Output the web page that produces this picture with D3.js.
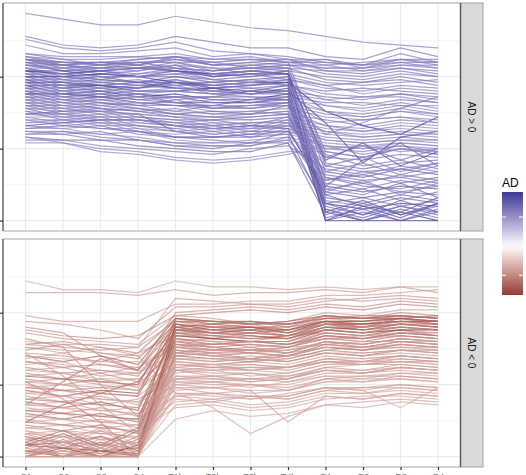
<!DOCTYPE html>
<html><head><meta charset="utf-8">
<script src="https://cdn.jsdelivr.net/npm/d3@7"></script>
<style>html,body{margin:0;padding:0;background:#fff;overflow:hidden}svg{display:block;font-family:"Liberation Sans",Arial,sans-serif}</style>
</head><body><svg id="c" width="526" height="475"></svg>
<script>
const categories=["C1","C2","C3","C4","T1h","T2h","T3h","T4h","R1","R2","R3","R4"];
const facetLabels=["AD > 0","AD < 0"];
const yTicks=[0,25,50];
const yMinor=[12.5,37.5,62.5];
const adBreaks=[-0.5,0,0.5];
const upRows=[
[72,70,68,68,71,69,67,66,64,62,61,60],
[64,61,60,61,64,62,60,60,57,56,60,57],
[63,60,59,60,62,59,58,57,55,54,58,55],
[61,58,58,59,60,57,58,56,56,53,56,54],
[58,56,54,56,57,56,57,55,55,54,56,55],
[57,55,55,54,56,54,55,56,52,51,53,52],
[57,54,53,55,55,55,53,54,53,53,55,53],
[56,55,54,53,55,52,53,54,51,50,52,50],
[56,53,54,55,53,52,54,53,24,22,25,23],
[55,54,52,53,54,53,51,52,50,49,51,50],
[55,52,53,54,52,51,52,51,20,18,20,21],
[54,53,51,52,54,50,52,53,49,48,50,48],
[54,52,52,50,51,51,50,52,17,15,18,16],
[53,51,52,51,53,50,51,49,47,48,49,47],
[53,50,51,50,50,49,50,51,14,16,13,15],
[52,51,49,51,52,49,48,49,46,45,47,46],
[52,49,50,48,50,48,49,50,12,10,12,11],
[51,50,48,49,47,48,49,47,45,46,45,44],
[51,48,49,48,49,46,47,48,10,8,10,9],
[50,49,47,46,49,47,46,47,44,43,44,43],
[50,47,48,47,46,46,47,48,8,6,9,7],
[49,48,46,47,48,45,46,45,43,42,44,42],
[49,46,47,45,45,46,44,46,6,4,6,5],
[48,47,45,46,47,44,45,44,42,40,42,41],
[48,45,46,44,43,43,45,45,5,2,5,3],
[47,46,44,45,45,44,43,43,41,41,40,40],
[47,44,45,43,44,42,42,44,3,0,3,0],
[46,45,43,44,42,43,43,42,40,38,40,38],
[46,43,44,42,43,41,41,43,0,3,0,3],
[45,44,42,43,41,42,41,41,38,37,39,37],
[45,42,43,41,40,40,42,42,0,0,0,0],
[44,43,41,40,42,39,40,40,37,36,38,36],
[44,41,42,40,38,40,39,41,4,0,4,1],
[43,42,40,41,40,38,38,39,36,35,36,35],
[43,40,41,39,37,38,37,40,1,4,0,4],
[42,41,39,38,39,37,38,37,35,33,35,34],
[42,39,40,38,36,36,37,38,7,5,8,6],
[41,40,38,39,37,36,35,36,33,32,34,33],
[41,38,39,36,35,35,36,37,9,11,7,10],
[40,39,37,37,36,34,34,35,32,31,33,32],
[40,37,38,35,34,35,33,36,13,11,14,12],
[39,38,36,36,35,33,34,34,31,30,31,30],
[39,36,37,34,33,34,32,35,16,14,15,17],
[38,37,35,35,34,32,33,33,30,29,30,29],
[38,35,36,33,32,33,31,34,19,17,18,20],
[37,36,34,34,33,31,32,32,29,28,29,28],
[36,34,35,32,31,32,30,33,22,21,23,22],
[35,35,33,33,32,30,31,31,28,27,28,27],
[35,33,34,31,30,31,29,32,25,24,26,24],
[34,34,32,32,29,29,30,30,27,26,27,26],
[33,32,33,30,29,28,27,31,15,13,16,14],
[32,32,30,31,28,27,28,29,26,25,26,25],
[31,30,31,28,27,26,26,29,11,13,10,12],
[30,30,28,28,26,25,27,27,6,8,5,7],
[29,28,28,26,25,24,24,27,2,6,2,5],
[28,28,26,25,24,23,25,26,18,16,19,17],
[27,27,24,23,21,20,21,23,26,25,27,26],
[29,27,25,24,22,21,22,24,24,22,25,23],
[56,55,55,56,57,55,56,55,56,54,55,55],
[55,54,55,55,56,54,55,54,54,55,56,56],
[52,51,52,53,52,51,52,51,21,27,19,24],
[50,50,51,50,48,47,48,48,38,33,30,36],
[47,47,47,48,46,45,44,45,34,20,29,31],
[44,44,43,44,41,39,40,41,30,34,39,43],
[37,38,38,37,31,29,30,31,12,21,27,19],
[33,34,35,35,33,32,33,32,9,5,3,8],
[57,56,56,57,56,55,56,56,54,52,54,53],
[56,54,55,54,57,54,54,55,22,26,21,25],
[55,55,54,55,55,53,53,53,52,52,53,51],
[54,54,53,53,53,52,53,52,19,22,17,20],
[53,53,53,52,54,51,52,51,48,47,48,49],
[52,52,50,50,52,50,51,51,3,7,2,6],
[51,51,50,50,51,49,48,50,47,44,46,45],
[50,50,49,48,48,48,47,49,11,9,13,8],
[49,49,48,47,47,47,48,47,42,43,43,41],
[48,48,47,46,48,46,45,47,0,5,1,6],
[47,47,46,45,46,45,44,45,40,39,41,39],
[46,46,45,44,45,44,44,44,15,12,11,14],
[45,45,44,43,43,43,42,43,38,36,38,37],
[44,44,43,42,41,41,41,42,6,2,7,3],
[43,43,42,41,41,40,40,41,34,35,36,34],
[42,42,41,40,40,39,39,40,23,19,21,18],
[41,41,40,39,38,37,37,38,33,31,32,31],
[40,40,39,38,37,36,36,37,10,14,9,13],
[39,39,38,37,36,35,35,36,31,29,30,30],
[37,37,36,36,34,33,34,34,17,20,16,19],
[36,36,35,35,33,32,32,33,28,27,28,28],
[34,35,34,33,31,30,31,31,26,23,25,24],
[32,33,32,31,29,29,29,30,4,1,5,2],
[31,31,30,29,27,27,27,28,25,26,24,25],
[30,31,29,28,26,26,26,28,14,17,15,13],
[58,57,57,57,58,56,56,55,53,53,54,54]
];
const upAD=[0.55,0.6,0.58,0.56,0.6,0.62,0.55,0.6,0.7,0.58,
0.65,0.62,0.72,0.6,0.66,0.57,0.74,0.6,0.68,0.58,
0.7,0.62,0.9,0.6,0.72,0.58,0.93,0.6,0.75,0.58,
0.8,0.57,0.7,0.6,0.68,0.58,0.66,0.55,0.64,0.56,
0.62,0.55,0.6,0.57,0.62,0.55,0.6,0.54,0.58,0.52,
0.62,0.5,0.6,0.64,0.66,0.56,0.5,0.52,0.6,0.58,
0.85,0.88,0.82,0.6,0.7,0.75,
0.55,0.65,0.58,0.62,0.56,0.8,0.55,0.66,0.57,0.78,
0.55,0.6,0.56,0.72,0.55,0.6,0.54,0.62,0.52,0.58,
0.52,0.55,0.7,0.52,0.58,0.56];
const downRows=[
[61,58,58,57,61,59,59,58,59,58,59,59],
[57,57,57,56,58,56,57,57,58,57,59,57],
[49,47,47,47,53,53,54,54,56,56,57,58],
[47,46,44,41,52,52,53,52,54,55,56,55],
[45,43,35,30,50,51,52,51,53,52,54,53],
[43,41,40,39,49,48,46,47,50,49,51,51],
[39,40,38,36,48,46,47,45,49,48,50,49],
[39,38,37,38,47,45,46,44,48,47,49,48],
[38,36,38,35,44,45,44,46,47,46,47,47],
[37,39,36,34,46,44,45,43,46,46,48,46],
[36,35,33,36,42,41,43,42,44,45,46,45],
[35,33,35,32,48,47,46,47,49,48,48,49],
[34,36,32,31,40,41,40,42,43,42,44,43],
[33,31,32,30,45,44,43,44,46,45,46,46],
[32,33,29,31,38,39,40,39,41,42,42,41],
[31,29,30,28,43,41,42,41,44,43,45,44],
[30,31,28,29,36,37,36,38,39,38,40,40],
[29,27,29,26,41,40,38,39,42,41,43,42],
[28,29,26,27,35,34,35,34,37,38,38,37],
[27,25,27,24,39,37,38,36,40,39,41,40],
[26,27,25,23,33,32,33,35,36,35,37,36],
[25,23,24,25,37,35,36,35,38,37,39,38],
[24,25,22,21,31,32,30,31,34,33,35,34],
[23,21,23,22,46,44,45,43,47,46,47,47],
[22,23,20,19,29,30,28,29,32,33,33,32],
[21,19,21,18,34,33,34,33,36,35,36,35],
[20,21,18,20,27,26,27,28,30,29,31,30],
[19,17,19,16,43,42,41,42,45,44,45,44],
[18,19,16,17,25,26,24,26,28,27,29,29],
[17,15,17,14,32,31,31,30,33,33,34,33],
[16,17,14,15,23,24,22,23,26,27,27,26],
[15,13,15,12,41,39,40,39,43,42,44,42],
[14,15,12,13,21,22,20,22,24,23,25,24],
[13,11,13,10,30,29,29,28,31,30,32,31],
[12,13,10,11,19,20,18,19,22,22,23,22],
[11,9,11,8,39,38,37,38,41,40,42,41],
[10,11,8,9,17,18,16,17,20,21,21,20],
[9,7,9,6,28,27,27,26,29,29,30,29],
[8,9,6,7,22,17,8,14,18,19,20,19],
[7,5,7,4,36,35,34,35,38,37,38,38],
[6,7,4,5,24,22,23,12,21,20,22,21],
[5,3,5,2,26,25,25,24,27,28,28,27],
[4,5,2,3,44,43,42,41,45,44,46,45],
[3,1,3,0,22,21,20,21,24,23,17,24],
[2,3,0,1,33,32,33,32,35,34,35,34],
[0,5,0,5,20,19,21,20,23,24,24,23],
[5,0,5,0,37,36,36,35,39,38,40,39],
[0,0,0,0,13,16,14,15,18,17,19,18],
[3,0,4,0,30,28,29,27,31,32,32,31],
[0,3,0,4,42,41,40,40,44,43,44,44],
[6,2,6,1,18,19,17,18,21,20,22,21],
[1,6,1,6,35,34,33,34,37,36,37,37],
[8,4,9,3,27,28,26,27,30,29,31,30],
[4,8,3,9,40,38,39,38,42,41,43,42],
[0,0,0,0,25,24,25,23,27,26,28,27],
[2,0,2,0,45,43,44,42,46,46,47,46],
[0,2,0,2,31,30,31,31,33,32,34,33],
[41,38,25,14,38,37,37,36,40,39,41,40],
[36,28,18,8,30,31,30,31,33,32,33,33],
[18,26,34,30,47,46,47,46,48,49,49,48],
[26,20,12,0,35,36,34,36,38,37,39,38],
[12,18,22,26,44,43,44,44,47,45,48,47],
[40,39,39,38,55,54,53,53,55,54,55,54],
[44,42,41,42,49,50,51,50,52,51,53,52],
[38,37,36,35,22,22,21,21,24,24,25,24],
[35,34,33,33,30,30,30,29,32,32,33,32],
[33,32,30,29,41,40,40,40,43,42,43,43],
[30,29,27,27,26,26,25,25,28,28,29,28],
[28,27,26,25,47,47,46,46,48,48,49,48],
[26,25,24,23,36,35,36,35,38,38,39,38],
[24,23,22,21,44,44,44,43,46,45,47,46],
[22,21,20,19,24,24,23,23,26,26,27,26],
[20,19,18,17,43,43,43,42,45,45,46,45],
[18,17,16,15,28,28,27,27,30,30,31,30],
[16,15,14,13,45,46,45,45,47,47,48,47],
[14,13,12,11,34,34,34,33,36,36,37,36],
[12,11,10,9,42,42,41,41,44,43,45,44],
[10,9,8,7,38,37,37,37,40,39,41,40],
[8,7,6,5,32,32,32,31,34,34,35,34],
[6,5,4,3,39,39,39,38,41,41,42,41],
[4,3,2,1,46,45,45,44,47,47,48,47],
[2,1,0,0,40,39,40,39,42,41,43,42],
[0,4,0,3,34,33,34,33,36,35,37,36],
[4,0,3,0,27,27,26,27,30,29,31,30],
[7,3,7,2,44,42,43,42,46,44,46,45],
[3,7,2,7,38,36,37,36,40,38,40,39],
[0,0,0,0,32,31,32,31,34,33,35,34],
[9,5,10,4,21,20,21,20,23,22,24,23],
[5,9,4,10,48,47,47,46,49,48,49,48],
[1,2,1,1,36,38,36,37,39,40,40,39]
];
const downAD=[-0.35,-0.4,-0.38,-0.42,-0.45,-0.4,-0.5,-0.45,-0.4,-0.48,
-0.42,-0.65,-0.4,-0.55,-0.38,-0.5,-0.4,-0.45,-0.38,-0.48,
-0.4,-0.45,-0.38,-0.7,-0.36,-0.42,-0.38,-0.66,-0.36,-0.42,
-0.35,-0.6,-0.35,-0.4,-0.34,-0.58,-0.34,-0.4,-0.36,-0.5,
-0.38,-0.4,-0.75,-0.36,-0.42,-0.36,-0.55,-0.34,-0.4,-0.84,
-0.36,-0.5,-0.4,-0.62,-0.4,-0.72,-0.42,-0.48,-0.42,-0.55,
-0.5,-0.62,-0.4,-0.5,
-0.4,-0.38,-0.45,-0.36,-0.6,-0.4,-0.55,-0.36,-0.5,-0.38,
-0.62,-0.4,-0.5,-0.42,-0.38,-0.45,-0.7,-0.5,-0.42,-0.38,
-0.55,-0.45,-0.4,-0.36,-0.6,-0.45];

const svg=d3.select("#c");
const panelL=3, panelR=460.5, stripR=483;
const panels=[
  {top:3,bottom:231,rows:upRows,ad:upAD,label:facetLabels[0]},
  {top:239,bottom:467,rows:downRows,ad:downAD,label:facetLabels[1]}
];
const x=d3.scalePoint().domain(categories).range([panelL,panelR]).padding(0.6);
const allV=upRows.flat().concat(downRows.flat());
const [vmin,vmax]=d3.extent(allV);
const pad=(vmax-vmin)*0.05;
const allAD=upAD.concat(downAD);
const adExt=d3.extent(allAD);
const adM=Math.max(Math.abs(adExt[0]),Math.abs(adExt[1]));
const hi=d3.interpolateLab("#ffffff","#3A3A98"), lo=d3.interpolateLab("#ffffff","#832424");
const col=v=>v>=0?hi(v/adM):lo(-v/adM);

panels.forEach((p,pi)=>{
  const y=d3.scaleLinear().domain([vmin-pad,vmax+pad]).range([p.bottom,p.top]);
  const g=svg.append("g");
  g.append("rect").attr("x",panelL).attr("y",p.top).attr("width",panelR-panelL).attr("height",p.bottom-p.top).attr("fill","#fff");
  g.append("g").selectAll("line").data(yMinor).join("line")
    .attr("x1",panelL).attr("x2",panelR).attr("y1",d=>y(d)).attr("y2",d=>y(d))
    .attr("stroke","#f3f3f3").attr("stroke-width",0.8);
  g.append("g").selectAll("line").data(yTicks).join("line")
    .attr("x1",panelL).attr("x2",panelR).attr("y1",d=>y(d)).attr("y2",d=>y(d))
    .attr("stroke","#ebebeb").attr("stroke-width",1.1);
  g.append("g").selectAll("line").data(categories).join("line")
    .attr("x1",d=>x(d)).attr("x2",d=>x(d)).attr("y1",p.top).attr("y2",p.bottom)
    .attr("stroke","#ebebeb").attr("stroke-width",1.1);
  const line=d3.line().x((d,i)=>x(categories[i])).y(d=>y(d));
  g.append("g").selectAll("path").data(p.rows).join("path")
    .attr("d",line).attr("fill","none")
    .attr("stroke",(d,i)=>col(p.ad[i])).attr("stroke-width",1.2).attr("stroke-opacity",0.72);
  [[panelL,p.top,panelR,p.top],[panelL,p.bottom,panelR,p.bottom]].forEach(s=>
    g.append("line").attr("x1",s[0]).attr("y1",s[1]).attr("x2",s[2]).attr("y2",s[3]).attr("stroke","#c4c4c4").attr("stroke-width",1.6));
  g.append("rect").attr("x",panelR).attr("y",p.top).attr("width",stripR-panelR).attr("height",p.bottom-p.top)
    .attr("fill","#d9d9d9").attr("stroke","#b0b0b0").attr("stroke-width",1.2);
  [panelL,panelR].forEach(xx=>g.append("line").attr("x1",xx).attr("x2",xx).attr("y1",p.top).attr("y2",p.bottom).attr("stroke","#5a5a5a").attr("stroke-width",1.4));
  g.append("text").attr("transform",`translate(${(panelR+stripR)/2},${(p.top+p.bottom)/2}) rotate(90)`)
    .attr("text-anchor","middle").attr("dominant-baseline","central")
    .attr("font-size",10).attr("fill","#1a1a1a").text(p.label);
  const ay=g.append("g").attr("transform",`translate(${panelL},0)`)
    .call(d3.axisLeft(y).tickValues(yTicks).tickSize(3).tickFormat(""));
  ay.select(".domain").remove();
  ay.selectAll(".tick line").attr("stroke","#333").attr("stroke-width",1.2);
  if(pi===1){
    const ax=g.append("g").attr("transform",`translate(0,${p.bottom})`)
      .call(d3.axisBottom(x).tickSize(3).tickPadding(3.5));
    ax.select(".domain").remove();
    ax.selectAll(".tick line").attr("stroke","#333").attr("stroke-width",1.2);
    ax.selectAll(".tick text").attr("fill","#7a7a7a").attr("font-size",9).attr("font-family","Liberation Sans, Arial, sans-serif");
  }
});

const lgX=502, lgW=21, lgTop=192, lgBot=295;
const ly=d3.scaleLinear().domain(adExt).range([lgBot,lgTop]);
const defs=svg.append("defs");
const grad=defs.append("linearGradient").attr("id","adg").attr("x1",0).attr("y1",1).attr("x2",0).attr("y2",0);
d3.range(0,1.0001,0.05).forEach(t=>{
  const v=adExt[0]+t*(adExt[1]-adExt[0]);
  grad.append("stop").attr("offset",t).attr("stop-color",col(v));
});
svg.append("text").attr("x",lgX).attr("y",187).attr("font-size",12).attr("fill","#000").text("AD");
svg.append("rect").attr("x",lgX).attr("y",lgTop).attr("width",lgW).attr("height",lgBot-lgTop).attr("fill","url(#adg)");
const lt=svg.append("g");
adBreaks.forEach(b=>{
  const yy=ly(b);
  lt.append("line").attr("x1",lgX).attr("x2",lgX+4).attr("y1",yy).attr("y2",yy).attr("stroke","#fff").attr("stroke-width",1);
  lt.append("line").attr("x1",lgX+lgW-4).attr("x2",lgX+lgW).attr("y1",yy).attr("y2",yy).attr("stroke","#fff").attr("stroke-width",1);
});
</script></body></html>
